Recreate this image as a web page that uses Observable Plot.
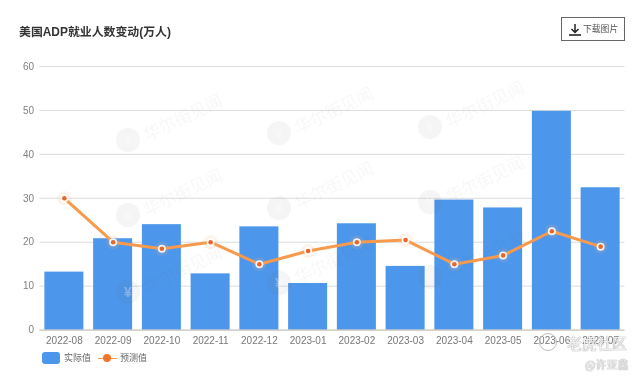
<!DOCTYPE html>
<html><head><meta charset="utf-8">
<script src="https://cdn.jsdelivr.net/npm/d3@7"></script>
<script src="https://cdn.jsdelivr.net/npm/@observablehq/plot@0.6"></script>
<style>
html,body{margin:0;padding:0;background:#fff}
body{font-family:"Liberation Sans","Noto Sans CJK SC",sans-serif;overflow:hidden}
#wrap{position:relative;width:639px;height:378px;overflow:hidden;filter:blur(.35px)}
#wrap svg{position:absolute;left:0;top:0;background:transparent}
.abs{position:absolute;white-space:nowrap;line-height:1}
.wm{position:absolute;transform-origin:0 50%;transform:rotate(-25.5deg);color:rgba(120,120,120,.06);font-family:"Noto Sans CJK SC";font-size:17px;font-weight:400;line-height:1;white-space:nowrap}
.wi{position:absolute;width:24px;height:24px;border-radius:50%;background:rgba(120,120,120,.07);color:rgba(255,255,255,.3);font-size:14px;line-height:24px;text-align:center;font-weight:700}
</style></head><body>
<div id="wrap"></div>
<script>
const months=["2022-08","2022-09","2022-10","2022-11","2022-12","2023-01","2023-02","2023-03","2023-04","2023-05","2023-06","2023-07"];
const actual=[13.2,20.8,24,12.8,23.5,10.6,24.2,14.5,29.6,27.8,49.8,32.4];
const forecast=[30,20,18.5,20,15,18,20,20.5,15,17,22.5,19];
const yTicks=[0,10,20,30,40,50,60];
const rows=months.map((m,i)=>({m,a:actual[i],f:forecast[i]}));
const wrap=document.getElementById("wrap");

const chart=Plot.plot({
  width:639,height:378,
  marginLeft:39.5,marginRight:14.5,marginTop:66,marginBottom:48.4,
  style:{fontFamily:'"Liberation Sans","Noto Sans CJK SC",sans-serif',background:"transparent"},
  x:{domain:months,paddingInner:0.2,paddingOuter:0.1,align:0.5,round:false,label:null},
  y:{domain:[0,60],label:null},
  marks:[
    Plot.gridY(yTicks,{stroke:"#dcdcdc",strokeOpacity:1,strokeWidth:1}),
    Plot.axisY(yTicks,{tickSize:0,tickPadding:6,fontSize:10,color:"#808080",label:null}),
    Plot.axisX({tickSize:0,tickPadding:7,fontSize:10,color:"#777",label:null}),
    Plot.barY(rows,{x:"m",y:"a",fill:"#4c96eb"}),
    Plot.ruleY([0],{stroke:"#c8c0b4",strokeWidth:1}),
    Plot.lineY(rows,{x:"m",y:"f",stroke:"#f79a4d",strokeWidth:3,curve:"linear"}),
    Plot.dot(rows,{x:"m",y:"f",r:7,fill:"#fbb47a",fillOpacity:.16}),
    Plot.dot(rows,{x:"m",y:"f",r:4,fill:"#fff",fillOpacity:.9}),
    Plot.dot(rows,{x:"m",y:"f",r:2.3,fill:"#e8672f"})
  ]
});
wrap.appendChild(chart);

function add(cls,html,css){const d=document.createElement("div");d.className=cls;d.innerHTML=html;Object.assign(d.style,css);wrap.appendChild(d);return d;}

// page furniture
add("abs","美国ADP就业人数变动(万人)",{left:"19px",top:"27px",fontSize:"11.9px",fontWeight:"700",color:"#333"});
add("abs",'<svg width="14" height="14" viewBox="0 0 14 14" style="position:absolute;left:6px;top:5px"><path d="M7 1V9M3.5 6L7 9.5L10.5 6" stroke="#222" stroke-width="1.5" fill="none"/><path d="M1 12H13" stroke="#222" stroke-width="1.6"/></svg><span style="position:absolute;left:21px;top:6.5px;font-size:8.8px;color:#555">下载图片</span>',
  {left:"561px",top:"17px",width:"62px",height:"22px",border:"1px solid #666",background:"#fff"});

// legend
add("abs","",{left:"42px",top:"352px",width:"18px",height:"12px",background:"#4c96eb",borderRadius:"3px"});
add("abs","实际值",{left:"64px",top:"354px",fontSize:"9px",color:"#666"});
add("abs","",{left:"98px",top:"358px",width:"19px",height:"1px",background:"#f79a4d"});
add("abs","",{left:"103px",top:"354px",width:"8px",height:"8px",background:"#f4762c",borderRadius:"50%"});
add("abs","预测值",{left:"120px",top:"354px",fontSize:"9px",color:"#666"});

// watermarks
const wmX=[128,279,430];
const wmY=[[140,215,292],[133,208,283],[127,202,277]];
wmX.forEach((x,i)=>wmY[i].forEach(y=>{
  add("wi","¥",{left:(x-12)+"px",top:(y-12)+"px"});
  add("wm","华尔街见闻",{left:(x+16)+"px",top:(y-14)+"px"});
}));

// attribution
const shadow="0 0 1px #999,0 0 1px #999";
add("abs","",{left:"539px",top:"333px",width:"16px",height:"16px",border:"1px solid #bbb",borderRadius:"50%"});
add("abs","老虎社区",{left:"567px",top:"334.5px",fontSize:"15px",fontFamily:'"Noto Sans CJK SC"',color:"rgba(255,255,255,.85)",textShadow:shadow});
add("abs","@许亚鑫",{left:"585px",top:"358.5px",fontSize:"11px",fontFamily:'"Noto Sans CJK SC"',color:"rgba(255,255,255,.85)",textShadow:shadow});
</script>
</body></html>
